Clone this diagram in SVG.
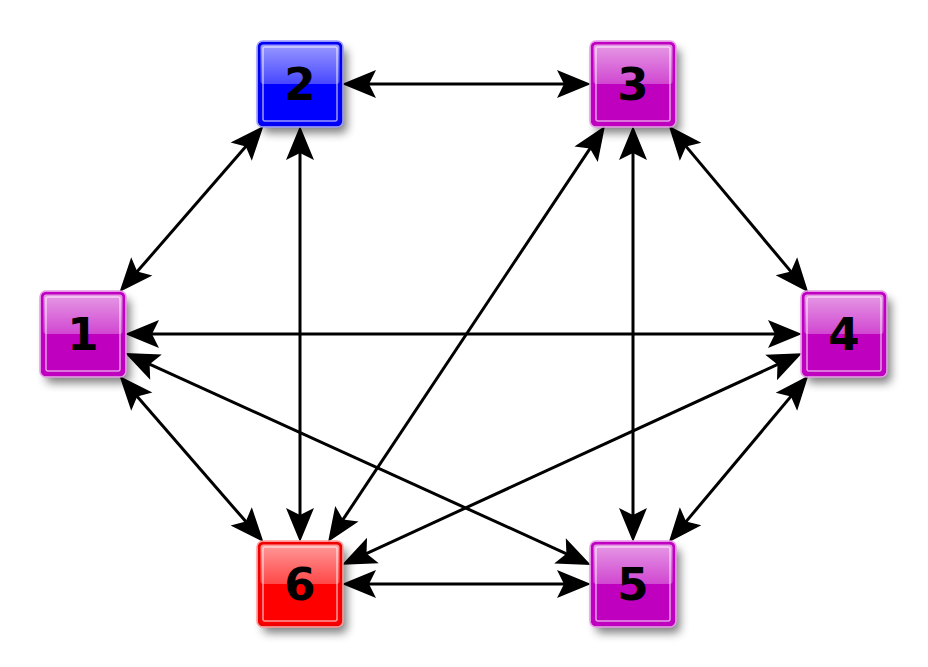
<svg xmlns="http://www.w3.org/2000/svg" width="928" height="667" viewBox="0 0 928 667">
<style>
.edge{stroke:#000;stroke-width:3;fill:none;marker-start:url(#ah);marker-end:url(#ah)}
.lbl{font-family:"DejaVu Sans",sans-serif;font-weight:bold;font-size:45px;text-anchor:middle;fill:#000}
.shadow{fill:#000;opacity:0.5;filter:url(#blur)}
.gloss{fill:url(#gl)}
.inner{fill:none;stroke:#fff;stroke-opacity:0.6;stroke-width:1.5}
.ring{fill:none;stroke-width:1.5}
.m .base{fill:#bf00bf;stroke:#c000c0;stroke-width:3}
.m .ring{stroke:#e89ae8}
.b .base{fill:#0000ff;stroke:#0000f0;stroke-width:3}
.b .ring{stroke:#9a9aff}
.r .base{fill:#ff0000;stroke:#f00000;stroke-width:3}
.r .ring{stroke:#ff9a9a}
</style>
<defs>
<filter id="blur" x="-40%" y="-40%" width="180%" height="180%"><feGaussianBlur stdDeviation="5"/></filter>
<linearGradient id="gl" x1="0" y1="0" x2="0" y2="1">
<stop offset="0" stop-color="#fff" stop-opacity="0.6"/>
<stop offset="1" stop-color="#fff" stop-opacity="0.28"/>
</linearGradient>
<marker id="ah" viewBox="0 0 34 28" refX="9" refY="14" markerWidth="34" markerHeight="28" markerUnits="userSpaceOnUse" orient="auto-start-reverse" overflow="visible">
<path d="M34,14 L0,0 L7,14 L0,28 z" fill="#000"/>
</marker>
</defs>
<g id="connectors">
<line class="edge" x1="367" y1="84" x2="566" y2="84"/>
<line class="edge" x1="367" y1="584" x2="566" y2="584"/>
<line class="edge" x1="150" y1="334" x2="777" y2="334"/>
<line class="edge" x1="300" y1="151" x2="300" y2="517"/>
<line class="edge" x1="633" y1="151" x2="633" y2="517"/>
<line class="edge" x1="247.1" y1="144.9" x2="135.9" y2="273.1"/>
<line class="edge" x1="684.8" y1="144.9" x2="792.2" y2="273.1"/>
<line class="edge" x1="792.2" y1="394.9" x2="684.8" y2="523.1"/>
<line class="edge" x1="135.9" y1="394.9" x2="247.1" y2="523.1"/>
<line class="edge" x1="591.1" y1="146.8" x2="341.9" y2="521.2"/>
<line class="edge" x1="147.8" y1="363.4" x2="568.2" y2="554.6"/>
<line class="edge" x1="779.3" y1="363.7" x2="364.7" y2="554.3"/>
</g>
<g id="node1" class="m" transform="translate(83,334)">
<rect class="shadow" x="-37" y="-35" width="84" height="84" rx="5"/>
<rect class="base" x="-41" y="-41" width="82" height="82" rx="4"/>
<rect class="gloss" x="-39.5" y="-39.5" width="79" height="39.5" rx="3"/>
<rect class="ring" x="-43" y="-43" width="86" height="86" rx="6"/>
<rect class="inner" x="-37" y="-37" width="74" height="74" rx="2"/>
<text class="lbl" x="0" y="16">1</text>
</g>
<g id="node2" class="b" transform="translate(300,84)">
<rect class="shadow" x="-37" y="-35" width="84" height="84" rx="5"/>
<rect class="base" x="-41" y="-41" width="82" height="82" rx="4"/>
<rect class="gloss" x="-39.5" y="-39.5" width="79" height="39.5" rx="3"/>
<rect class="ring" x="-43" y="-43" width="86" height="86" rx="6"/>
<rect class="inner" x="-37" y="-37" width="74" height="74" rx="2"/>
<text class="lbl" x="0" y="16">2</text>
</g>
<g id="node3" class="m" transform="translate(633,84)">
<rect class="shadow" x="-37" y="-35" width="84" height="84" rx="5"/>
<rect class="base" x="-41" y="-41" width="82" height="82" rx="4"/>
<rect class="gloss" x="-39.5" y="-39.5" width="79" height="39.5" rx="3"/>
<rect class="ring" x="-43" y="-43" width="86" height="86" rx="6"/>
<rect class="inner" x="-37" y="-37" width="74" height="74" rx="2"/>
<text class="lbl" x="0" y="16">3</text>
</g>
<g id="node4" class="m" transform="translate(844,334)">
<rect class="shadow" x="-37" y="-35" width="84" height="84" rx="5"/>
<rect class="base" x="-41" y="-41" width="82" height="82" rx="4"/>
<rect class="gloss" x="-39.5" y="-39.5" width="79" height="39.5" rx="3"/>
<rect class="ring" x="-43" y="-43" width="86" height="86" rx="6"/>
<rect class="inner" x="-37" y="-37" width="74" height="74" rx="2"/>
<text class="lbl" x="0" y="16">4</text>
</g>
<g id="node5" class="m" transform="translate(633,584)">
<rect class="shadow" x="-37" y="-35" width="84" height="84" rx="5"/>
<rect class="base" x="-41" y="-41" width="82" height="82" rx="4"/>
<rect class="gloss" x="-39.5" y="-39.5" width="79" height="39.5" rx="3"/>
<rect class="ring" x="-43" y="-43" width="86" height="86" rx="6"/>
<rect class="inner" x="-37" y="-37" width="74" height="74" rx="2"/>
<text class="lbl" x="0" y="16">5</text>
</g>
<g id="node6" class="r" transform="translate(300,584)">
<rect class="shadow" x="-37" y="-35" width="84" height="84" rx="5"/>
<rect class="base" x="-41" y="-41" width="82" height="82" rx="4"/>
<rect class="gloss" x="-39.5" y="-39.5" width="79" height="39.5" rx="3"/>
<rect class="ring" x="-43" y="-43" width="86" height="86" rx="6"/>
<rect class="inner" x="-37" y="-37" width="74" height="74" rx="2"/>
<text class="lbl" x="0" y="16">6</text>
</g>
</svg>
